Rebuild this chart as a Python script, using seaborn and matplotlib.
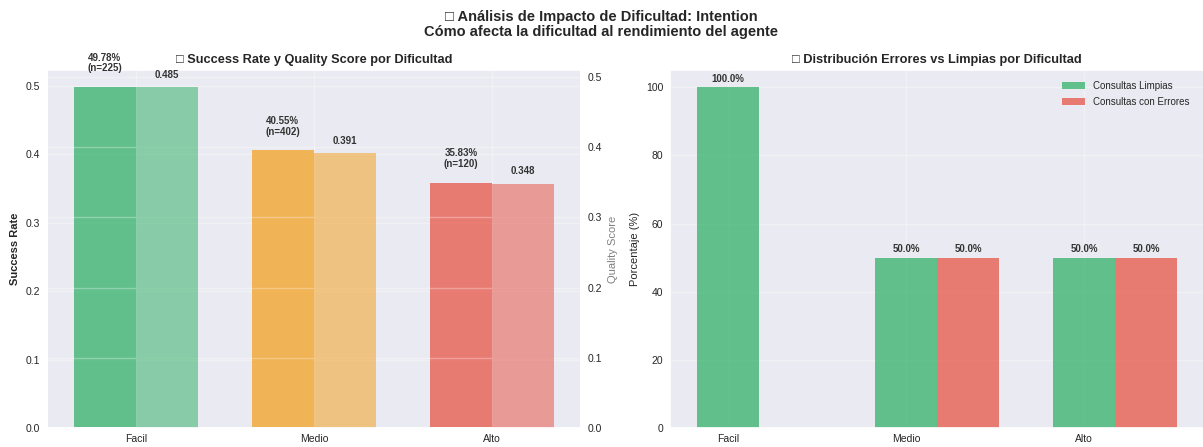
import numpy as np
import pandas as pd
import seaborn as sns
import matplotlib.pyplot as plt

# Data
levels = ['Facil', 'Medio', 'Alto']
success_rate = [0.4978, 0.4055, 0.3583]
n_queries = [225, 402, 120]
quality_score = [0.485, 0.391, 0.348]
clean_pct = [100.0, 50.0, 50.0]
error_pct = [0.0, 50.0, 50.0]

level_colors = ['#27ae60', '#f39c12', '#e74c3c']
width = 0.35

sns.set_theme(style='darkgrid')
plt.rcParams['font.family'] = ['Liberation Sans', 'DejaVu Sans']
plt.rcParams['xtick.labelsize'] = 7.5
plt.rcParams['ytick.labelsize'] = 7.5
plt.rcParams['xtick.major.size'] = 0
plt.rcParams['ytick.major.size'] = 0
plt.rcParams['xtick.major.pad'] = 4
plt.rcParams['ytick.major.pad'] = 5
plt.rcParams['axes.labelsize'] = 8
plt.rcParams['axes.labelpad'] = 4

fig = plt.figure(figsize=(12.03, 4.47), dpi=100)
ax1 = fig.add_axes([0.039, 0.042, 0.444, 0.801])
ax3 = fig.add_axes([0.557, 0.042, 0.444, 0.801])

# the emoji in the original titles show up as empty boxes
fig.suptitle('□ Análisis de Impacto de Dificultad: Intention\n'
             'Cómo afecta la dificultad al rendimiento del agente',
             fontsize=10.5, fontweight='bold', y=0.978, linespacing=1.15)


def bars_of(ax):
    # drawn bars, left to right
    return sorted([p for p in ax.patches if p.get_width() > 0], key=lambda p: p.get_x())


def label_bars(ax, bars, labels, pad, size=7):
    for p, lbl in zip(bars, labels):
        if lbl:
            ax.annotate(lbl, (p.get_x() + p.get_width() / 2, p.get_height()),
                        xytext=(0, pad), textcoords='offset points', ha='center', va='bottom',
                        fontsize=size, fontweight='bold', color='#333333', linespacing=1.05)


# Left: success rate (left axis) and quality score (twin axis)
metrics = ['Success Rate', 'Quality Score']
df_sr = pd.DataFrame({'Dificultad': levels, 'Metrica': 'Success Rate', 'Valor': success_rate})
df_qs = pd.DataFrame({'Dificultad': levels, 'Metrica': 'Quality Score', 'Valor': quality_score})

sns.barplot(data=df_sr, x='Dificultad', y='Valor', hue='Metrica', hue_order=metrics,
            order=levels, dodge=True, width=2 * width, alpha=0.7, saturation=1,
            linewidth=0, errorbar=None, legend=False, ax=ax1)
ax2 = ax1.twinx()
sns.barplot(data=df_qs, x='Dificultad', y='Valor', hue='Metrica', hue_order=metrics,
            order=levels, dodge=True, width=2 * width, alpha=0.5, saturation=1,
            linewidth=0, errorbar=None, legend=False, ax=ax2)

for ax in (ax1, ax2):
    for p, c in zip(bars_of(ax), level_colors):
        p.set_facecolor(c)

label_bars(ax1, bars_of(ax1),
           [f'{s * 100:.2f}%\n(n={n})' for s, n in zip(success_rate, n_queries)], 10)
label_bars(ax2, bars_of(ax2), [f'{q:.3f}' for q in quality_score], 5.5)

ax1.set_ylim(0, max(success_rate) * 1.05)
ax2.set_ylim(0, max(quality_score) * 1.05)
ax1.grid(True, alpha=0.3)
ax2.yaxis.grid(True, alpha=0.3)
ax2.xaxis.grid(False)
ax2.spines['top'].set_visible(False)
ax1.set_xlabel('')
ax2.set_xlabel('')
ax1.set_ylabel('Success Rate', fontweight='bold')
ax2.set_ylabel('Quality Score', color='gray')
ax1.set_title('□ Success Rate y Quality Score por Dificultad',
              fontsize=9.2, fontweight='bold', pad=5)

# Right: clean vs error distribution
df_dist = pd.DataFrame({
    'Dificultad': levels * 2,
    'Tipo': ['Consultas Limpias'] * len(levels) + ['Consultas con Errores'] * len(levels),
    'Porcentaje': clean_pct + error_pct,
})
sns.barplot(data=df_dist, x='Dificultad', y='Porcentaje', hue='Tipo',
            palette=['#27ae60', '#e74c3c'], order=levels, dodge=True, width=2 * width,
            alpha=0.7, saturation=1, linewidth=0, errorbar=None, ax=ax3)

dist_bars = sorted([p for p in ax3.patches if p.get_width() > 0], key=lambda p: p.get_x())
dist_vals = [v for pair in zip(clean_pct, error_pct) for v in pair]
label_bars(ax3, dist_bars, [f'{v:.1f}%' if v > 0 else '' for v in dist_vals], 2.5)

ax3.set_ylim(0, 105)
ax3.set_xticks(np.arange(len(levels)) - width / 2, levels)
ax3.grid(True, alpha=0.3)
ax3.set_xlabel('')
ax3.set_ylabel('Porcentaje (%)')
ax3.set_title('□ Distribución Errores vs Limpias por Dificultad',
              fontsize=9.2, fontweight='bold', pad=5)
ax3.legend(loc='upper right', bbox_to_anchor=(0.988, 0.995), frameon=False,
           fontsize=7, labelspacing=0.6, handlelength=2.3)

fig.savefig('out.png', dpi=100)
